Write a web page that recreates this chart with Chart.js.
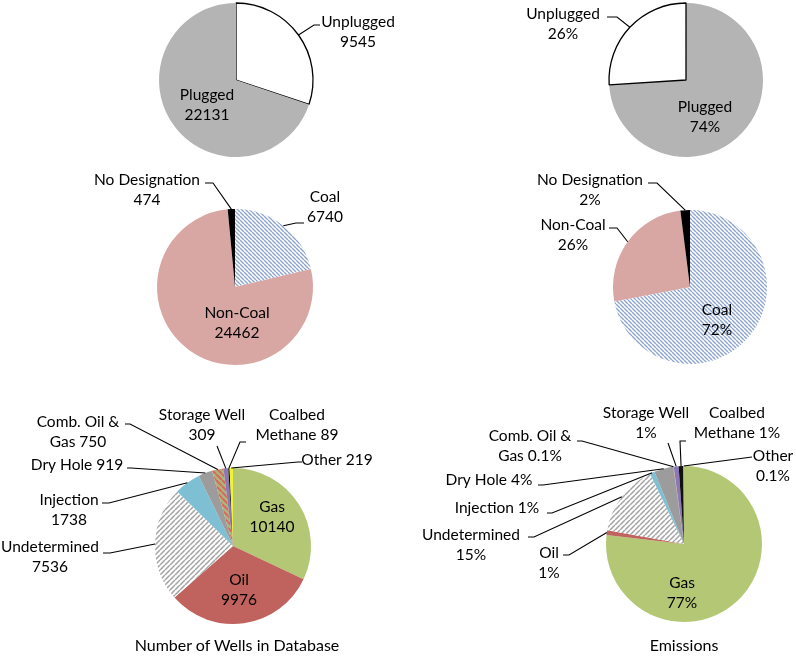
<!DOCTYPE html>
<html>
<head>
<meta charset="utf-8">
<script src="https://cdn.jsdelivr.net/npm/chart.js@4.4.1/dist/chart.umd.min.js"></script>
<style>
  html, body { margin: 0; padding: 0; background: #fff; }
  #wrap { position: relative; width: 796px; height: 660px; overflow: hidden; }
  #wrap canvas { position: absolute; left: 0; top: 0; }
  .title { position: absolute; top: 635px; font: 16px Lato, sans-serif; color: #000; transform: translateX(-50%); white-space: nowrap; }
</style>
</head>
<body>
<div id="wrap">
  <canvas id="statusWellsChart" width="796" height="660"></canvas>
  <canvas id="statusEmisChart" width="796" height="660"></canvas>
  <canvas id="coalWellsChart" width="796" height="660"></canvas>
  <canvas id="coalEmisChart" width="796" height="660"></canvas>
  <canvas id="typeWellsChart" width="796" height="660"></canvas>
  <canvas id="typeEmisChart" width="796" height="660"></canvas>
  <div class="title" style="left:237px">Number of Wells in Database</div>
  <div class="title" style="left:684px">Emissions</div>
</div>
<script>
/* globals Chart:false */

// --- data ---
const statusWellLabels = ['Unplugged', 'Plugged']
const statusWells = [9545, 22131]
const statusEmisLabels = ['Plugged', 'Unplugged']
const statusEmis = [74, 26]

const coalLabels = ['Coal', 'Non-Coal', 'No Designation']
const coalWells = [6740, 24462, 474]
const coalEmis = [72, 26, 2]

const typeLabels = ['Gas', 'Oil', 'Undetermined', 'Injection', 'Dry Hole', 'Comb. Oil & Gas', 'Storage Well', 'Coalbed Methane', 'Other']
const typeWells = [10140, 9976, 7536, 1738, 919, 750, 309, 89, 219]
const typeEmis = [77, 1, 15, 1, 4, 0.1, 1, 1, 0.1]

// --- fills ---
function hatch (fg, bg, size, lw, dir) {
  const c = document.createElement('canvas')
  c.width = c.height = size
  const g = c.getContext('2d')
  g.fillStyle = bg
  g.fillRect(0, 0, size, size)
  g.strokeStyle = fg
  g.lineWidth = lw
  g.beginPath()
  for (let k = -1; k <= 1; k++) {
    if (dir > 0) { // "/"
      g.moveTo(k * size, size); g.lineTo(k * size + size, 0)
    } else { // "\"
      g.moveTo(k * size, 0); g.lineTo(k * size + size, size)
    }
  }
  g.stroke()
  return g.createPattern(c, 'repeat')
}

const coalFill = hatch('#8ea6cd', '#ffffff', 4, 1.4, -1)
const undetFill = hatch('#a3a3a3', '#ffffff', 5, 1.5, 1)
const combFill = hatch('#d46a62', '#adb778', 6, 2.1, -1)

const statusColors = { Unplugged: '#ffffff', Plugged: '#b4b4b4' }
const coalColors = [coalFill, '#d8a6a3', '#000000']
const typeColors = ['#b3c775', '#c0625d', undetFill, '#7fbfd4', '#9c9c9c', combFill, '#8b78b5', '#111111', '#f2f230']

// --- label plugin ---
const pieLabels = {
  id: 'pieLabels',
  afterDatasetsDraw (chart, args, opts) {
    const { ctx } = chart
    const ds = chart.data.datasets[0]
    const arcs = chart.getDatasetMeta(0).data
    ctx.save()
    ctx.font = '15.5px Lato, sans-serif'
    ctx.fillStyle = '#000'
    ctx.strokeStyle = '#000'
    ctx.lineWidth = 1.1
    ctx.textAlign = 'center'
    ctx.textBaseline = 'middle'
    opts.items.forEach((it, i) => {
      const arc = arcs[i]
      const text = it.fmt.replace('{l}', chart.data.labels[i]).replace('{v}', opts.value(ds.data[i]))
      const lines = text.split('\n')
      lines.forEach((s, k) => ctx.fillText(s, it.at[0], it.at[1] + (k - (lines.length - 1) / 2) * 20))
      if (it.lead) {
        const mid = (arc.startAngle + arc.endAngle) / 2
        const ex = arc.x + Math.cos(mid) * arc.outerRadius
        const ey = arc.y + Math.sin(mid) * arc.outerRadius
        const [x0, y0, stub] = it.lead
        ctx.beginPath()
        ctx.moveTo(x0, y0)
        ctx.lineTo(x0 + stub, y0)
        ctx.lineTo(ex, ey)
        ctx.stroke()
      }
    })
    ctx.restore()
  }
}

const asCount = v => String(v)
const asPct = v => v + '%'

function makePie (id, labels, values, colors, borders, center, r, items, value) {
  const [cx, cy] = center
  return new Chart(document.getElementById(id), {
    type: 'pie',
    data: {
      labels,
      datasets: [{
        data: values,
        backgroundColor: colors,
        borderColor: '#000000',
        borderWidth: borders,
        radius: r
      }]
    },
    options: {
      responsive: false,
      animation: false,
      events: [],
      layout: { padding: { left: cx - r, top: cy - r, right: 796 - cx - r, bottom: 660 - cy - r } },
      plugins: {
        legend: { display: false },
        tooltip: { enabled: false },
        pieLabels: { items, value }
      }
    },
    plugins: [pieLabels]
  })
}

// top row: plugged / unplugged
makePie('statusWellsChart', statusWellLabels, statusWells,
  statusWellLabels.map(l => statusColors[l]), [1.3, 0], [236, 80], 77, [
    { fmt: '{l}\n{v}', at: [358, 32], lead: [320, 25, -6] },
    { fmt: '{l}\n{v}', at: [207, 105] }
  ], asCount)

makePie('statusEmisChart', statusEmisLabels, statusEmis,
  statusEmisLabels.map(l => statusColors[l]), [0, 1.3], [686, 80], 77, [
    { fmt: '{l}\n{v}', at: [705, 117] },
    { fmt: '{l}\n{v}', at: [563, 24], lead: [607, 17, 10] }
  ], asPct)

// middle row: coal / non-coal
makePie('coalWellsChart', coalLabels, coalWells, coalColors, 0, [235, 287], 78, [
  { fmt: '{l}\n{v}', at: [325, 207], lead: [304, 223, -8] },
  { fmt: '{l}\n{v}', at: [237, 323] },
  { fmt: '{l}\n{v}', at: [147, 190], lead: [205, 183, 8] }
], asCount)

makePie('coalEmisChart', coalLabels, coalEmis, coalColors, 0, [690, 287], 77, [
  { fmt: '{l}\n{v}', at: [717, 320] },
  { fmt: '{l}\n{v}', at: [573, 235], lead: [609, 228, 8] },
  { fmt: '{l}\n{v}', at: [590, 190], lead: [648, 183, 9] }
], asPct)

// bottom row: well type
makePie('typeWellsChart', typeLabels, typeWells, typeColors, 0, [233, 546], 78, [
  { fmt: '{l}\n{v}', at: [272, 517] },
  { fmt: '{l}\n{v}', at: [239, 590] },
  { fmt: '{l}\n{v}', at: [50, 557], lead: [103, 553, 7] },
  { fmt: '{l}\n{v}', at: [69, 510], lead: [102, 503, 7] },
  { fmt: '{l} {v}', at: [77, 465], lead: [127, 468, 4] },
  { fmt: 'Comb. Oil &\nGas {v}', at: [78, 432], lead: [125, 424, 5] },
  { fmt: '{l}\n{v}', at: [202, 425], lead: [217, 446, 0] },
  { fmt: 'Coalbed\nMethane {v}', at: [297, 425], lead: [246, 442, -6] },
  { fmt: '{l} {v}', at: [337, 460], lead: [302, 462, -4] }
], asCount)

makePie('typeEmisChart', typeLabels, typeEmis, typeColors, 0, [684, 544], 78, [
  { fmt: '{l}\n{v}', at: [682, 593] },
  { fmt: '{l}\n{v}', at: [549, 563], lead: [563, 555, 6] },
  { fmt: '{l}\n{v}', at: [471, 545], lead: [528, 537, 6] },
  { fmt: '{l} {v}', at: [497, 508], lead: [547, 513, 5] },
  { fmt: '{l} {v}', at: [489, 480], lead: [538, 485, 5] },
  { fmt: 'Comb. Oil &\nGas {v}', at: [530, 446], lead: [577, 441, 5] },
  { fmt: '{l}\n{v}', at: [646, 423], lead: [668, 443, 0] },
  { fmt: 'Coalbed\nMethane {v}', at: [737, 423], lead: [686, 441, -6] },
  { fmt: '{l}\n{v}', at: [773, 466], lead: [752, 457, 0] }
], asPct)
</script>
</body>
</html>
